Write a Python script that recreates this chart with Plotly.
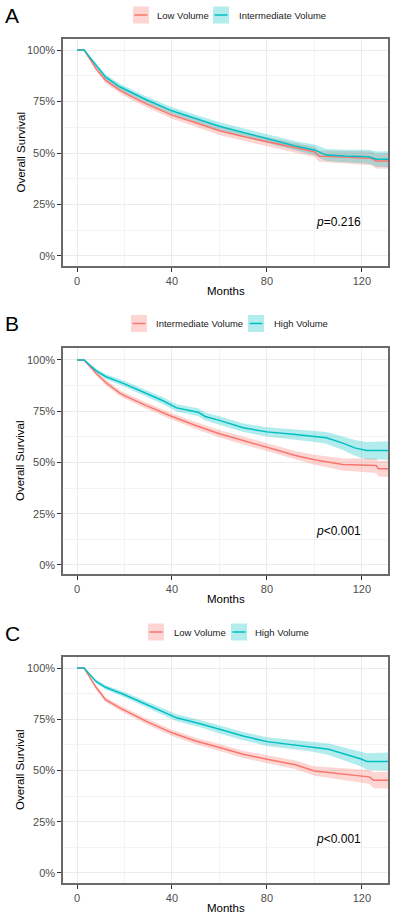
import plotly.graph_objects as go

# ---------------- data ----------------
# Panel A
A_low_t = [0, 3, 8, 12, 18, 22, 29, 40, 50, 60, 70, 80, 92, 100, 102, 113, 124, 126, 131]
A_low_s = [100, 100, 91, 85.4, 80.6, 78, 74, 68.4, 64.7, 60.8, 58, 55.5, 52.6, 50.6, 48.5, 47.9, 47.4, 46.1, 46.1]
A_low_hw = [0, 0, 1.2, 1.4, 1.5, 1.6, 1.7, 1.8, 1.9, 2.0, 2.1, 2.2, 2.3, 2.5, 2.7, 2.9, 3.3, 3.6, 3.8]

A_int_t = [0, 3, 8, 12, 18, 22, 29, 40, 50, 60, 70, 80, 92, 100, 105, 113, 123, 126, 131]
A_int_s = [100, 100, 92.7, 87, 82.2, 79.8, 76, 70.5, 66.8, 63, 60, 57.1, 53.4, 51.5, 49, 48.5, 48.2, 47, 47]
A_int_hw = [0, 0, 1.0, 1.3, 1.4, 1.5, 1.6, 1.7, 1.8, 1.9, 2.0, 2.1, 2.3, 2.6, 2.9, 3.1, 3.4, 3.7, 3.9]

# Panel B
B_int_t = [0, 3, 8, 12, 18, 20, 29, 40, 50, 60, 70, 80, 92, 100, 112, 126, 127, 131]
B_int_s = [100, 100, 93.5, 89.1, 83.8, 82.6, 77.8, 72.4, 68, 64, 60.7, 57.5, 53.4, 51.3, 49, 48.5, 46.9, 46.9]
B_int_hw = [0, 0, 1.0, 1.3, 1.4, 1.4, 1.5, 1.6, 1.7, 1.8, 1.9, 2.0, 2.2, 2.4, 2.9, 3.6, 3.8, 4.0]

B_high_t = [0, 3, 8, 12, 20, 29, 36, 42, 51, 54, 60, 70, 80, 92, 100, 105, 112, 117, 122, 131]
B_high_s = [100, 100, 94.8, 91.9, 88.3, 83.8, 80.2, 76.6, 74.5, 72.4, 70.5, 66.9, 64.9, 63.6, 62.7, 62, 59.4, 57.1, 55.8, 55.8]
B_high_hw = [0, 0, 1.0, 1.2, 1.4, 1.6, 1.7, 1.8, 1.9, 1.9, 2.0, 2.1, 2.3, 2.5, 2.7, 2.9, 3.3, 3.8, 4.2, 4.5]

# Panel C
C_low_t = [0, 3, 8, 12, 18, 22, 29, 40, 50, 60, 70, 80, 92, 100, 113, 123, 125, 131]
C_low_s = [100, 100, 90.6, 84.6, 80.6, 78.2, 74.1, 68.4, 64.4, 61.2, 57.9, 55.5, 52.8, 49.8, 48.2, 46.9, 45.3, 45.3]
C_low_hw = [0, 0, 1.0, 1.2, 1.3, 1.3, 1.4, 1.5, 1.6, 1.7, 1.8, 1.9, 2.1, 2.3, 2.8, 3.4, 3.9, 4.1]

C_high_t = [0, 3, 8, 12, 20, 29, 36, 42, 53, 60, 70, 80, 92, 100, 106, 113, 120, 122, 131]
C_high_s = [100, 100, 93.5, 90.6, 87, 82.5, 79, 75.7, 72.5, 70, 66.8, 64.1, 62.5, 61.5, 60.4, 57.9, 55.5, 54.4, 54.4]
C_high_hw = [0, 0, 0.9, 1.1, 1.3, 1.5, 1.6, 1.7, 1.8, 1.9, 2.0, 2.1, 2.3, 2.5, 2.8, 3.2, 3.7, 4.0, 4.4]

panel_letters = ["A", "B", "C"]
legend_labels = [["Low Volume", "Intermediate Volume"],
                 ["Intermediate Volume", "High Volume"],
                 ["Low Volume", "High Volume"]]
p_texts = ["<i>p</i>=0.216", "<i>p</i><0.001", "<i>p</i><0.001"]
x_ticks = [0, 40, 80, 120]
y_ticks = [0, 25, 50, 75, 100]

# ---------------- styling / layout ----------------
W, H = 394, 918
RED = "#F8766D"
TEAL = "#00BFC4"
RED_F = "rgba(248,118,109,0.30)"
TEAL_F = "rgba(0,191,196,0.30)"
FONT = "Liberation Sans, Arial, sans-serif"

series = [
    [(A_low_t, A_low_s, A_low_hw), (A_int_t, A_int_s, A_int_hw)],
    [(B_int_t, B_int_s, B_int_hw), (B_high_t, B_high_s, B_high_hw)],
    [(C_low_t, C_low_s, C_low_hw), (C_high_t, C_high_s, C_high_hw)],
]

# plot area pixel boxes (top, bottom)
panel_px = [(39, 266), (348, 574), (657, 883)]
x_px = (63, 388)
y_ranges = [[-4.9, 105.4], [-4.4, 105.8], [-4.9, 105.4]]
x_range = [-5.9, 131]

# legend pixel positions: (center y, red swatch x0, red text x0, teal swatch x0, teal text x0)
legend_px = [(15, 133, 155, 213, 237),
             (323.5, 131, 154, 248, 272),
             (632, 148, 172, 231, 253)]
letter_px = [15.5, 323, 633]

def px_x(p):
    return p / W

def px_y(p):
    return 1 - p / H

fig = go.Figure()
colors = [(RED, RED_F), (TEAL, TEAL_F)]

for i in range(3):
    ax = "" if i == 0 else str(i + 1)
    xa, ya = "x" + ax, "y" + ax
    # bands
    for j, (t, s, hw) in enumerate(series[i]):
        up = [min(100, a + b) for a, b in zip(s, hw)]
        lo = [a - b for a, b in zip(s, hw)]
        fig.add_trace(go.Scatter(x=t, y=up, mode="lines", line=dict(width=0),
                                 showlegend=False, hoverinfo="skip", xaxis=xa, yaxis=ya))
        fig.add_trace(go.Scatter(x=t, y=lo, mode="lines", line=dict(width=0),
                                 fill="tonexty", fillcolor=colors[j][1],
                                 showlegend=False, hoverinfo="skip", xaxis=xa, yaxis=ya))
    # lines
    for j, (t, s, hw) in enumerate(series[i]):
        fig.add_trace(go.Scatter(x=t, y=s, mode="lines",
                                 line=dict(color=colors[j][0], width=1.5),
                                 name=legend_labels[i][j], showlegend=False,
                                 xaxis=xa, yaxis=ya))

    top, bot = panel_px[i]
    axis_common = dict(showline=True, mirror=True, linecolor="#6a6a6a", linewidth=1.5,
                       ticks="outside", ticklen=4, tickcolor="#333333", tickwidth=1,
                       showgrid=True, gridcolor="#EBEBEB", gridwidth=1, zeroline=False,
                       tickfont=dict(family=FONT, size=11, color="#4D4D4D"))
    fig.layout["xaxis" + ax] = dict(
        domain=[px_x(x_px[0]), px_x(x_px[1])], range=x_range, anchor=ya,
        tickvals=x_ticks, ticktext=[str(v) for v in x_ticks],
        minor=dict(tick0=0, dtick=20, showgrid=True, gridcolor="#F3F3F3", gridwidth=0.7),
        **axis_common)
    fig.layout["yaxis" + ax] = dict(
        domain=[px_y(bot), px_y(top)], range=y_ranges[i], anchor=xa,
        tickvals=y_ticks, ticktext=[f"{v}%" for v in y_ticks],
        minor=dict(tick0=0, dtick=12.5, showgrid=True, gridcolor="#F3F3F3", gridwidth=0.7),
        **axis_common)

    # axis titles
    fig.add_annotation(text="Months", xref="paper", yref="paper",
                       x=px_x((x_px[0] + x_px[1]) / 2), y=px_y(bot + 25),
                       showarrow=False, xanchor="center", yanchor="middle",
                       font=dict(family=FONT, size=11.5, color="black"))
    fig.add_annotation(text="Overall Survival", xref="paper", yref="paper",
                       x=px_x(20), y=px_y((top + bot) / 2), textangle=-90,
                       showarrow=False, xanchor="center", yanchor="middle",
                       font=dict(family=FONT, size=11.5, color="black"))
    # p value
    fig.add_annotation(text=p_texts[i], xref=xa, yref=ya, x=100, y=16.5,
                       showarrow=False, xanchor="left", yanchor="middle",
                       font=dict(family=FONT, size=12, color="black"))
    # panel letter
    fig.add_annotation(text=panel_letters[i], xref="paper", yref="paper",
                       x=px_x(3), y=px_y(letter_px[i]), showarrow=False,
                       xanchor="left", yanchor="middle",
                       font=dict(family=FONT, size=21, color="black"))
    # legend (ggplot-style keys)
    cy, rx, rtx, tx, ttx = legend_px[i]
    for sx, txx, lab, (lc, fc) in [(rx, rtx, legend_labels[i][0], colors[0]),
                                    (tx, ttx, legend_labels[i][1], colors[1])]:
        fig.add_shape(type="rect", xref="paper", yref="paper",
                      x0=px_x(sx), x1=px_x(sx + 16), y0=px_y(cy - 8.5), y1=px_y(cy + 8.5),
                      fillcolor=fc, line=dict(width=0))
        fig.add_shape(type="line", xref="paper", yref="paper",
                      x0=px_x(sx + 1.5), x1=px_x(sx + 14.5), y0=px_y(cy), y1=px_y(cy),
                      line=dict(color=lc, width=1.5))
        fig.add_annotation(text=lab, xref="paper", yref="paper",
                           x=px_x(txx), y=px_y(cy), showarrow=False,
                           xanchor="left", yanchor="middle",
                           font=dict(family=FONT, size=9.5, color="#1a1a1a"))

fig.update_layout(width=W, height=H, margin=dict(l=0, r=0, t=0, b=0),
                  paper_bgcolor="white", plot_bgcolor="white", showlegend=False)

fig.write_html("out.html", config={"displayModeBar": False},
               post_script="document.body.style.margin='0';document.body.style.padding='0';")
